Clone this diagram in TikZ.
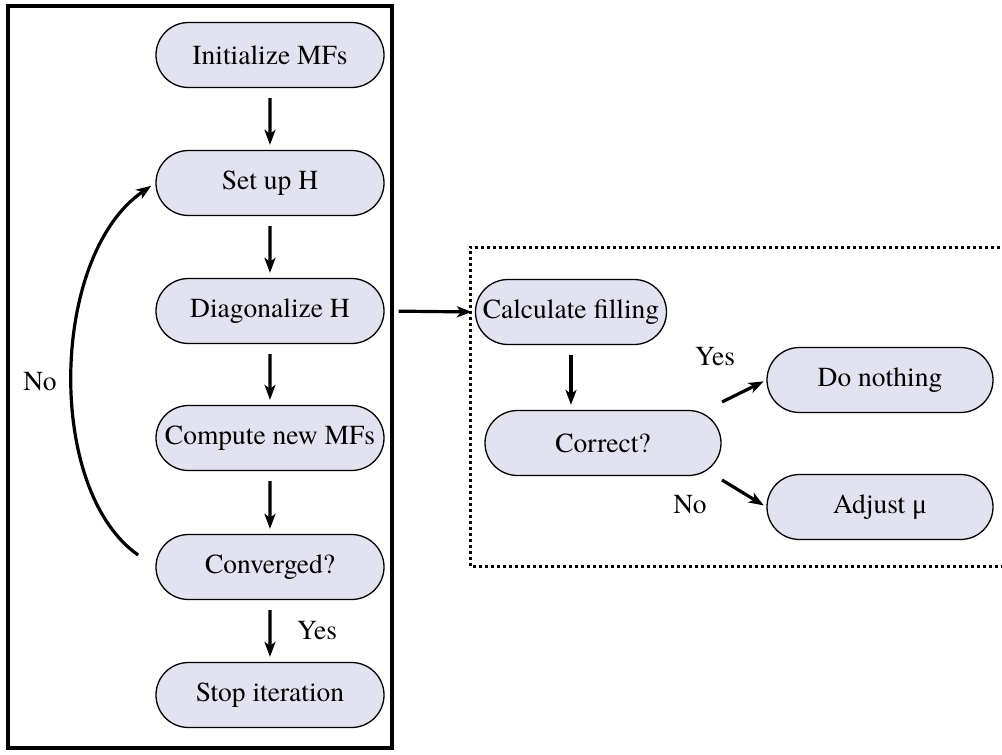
\documentclass[tikz,border=0pt]{standalone}
\usepackage{fontspec}
\setmainfont{texgyretermes}[Extension=.otf, UprightFont=*-regular, BoldFont=*-bold, ItalicFont=*-italic, BoldItalicFont=*-bolditalic]
\newfontfamily\symfont{Liberation Serif}
\usetikzlibrary{arrows.meta,shapes.misc}
\definecolor{boxfill}{HTML}{E2E2F0}
\tikzset{
  proc/.style={draw=black, line width=1.3pt, fill=boxfill, rounded rectangle,
    minimum width=228pt, minimum height=65pt, inner sep=0pt,
    font=\rmfamily\fontsize{27.5}{32}\selectfont},
  flow/.style={line width=3.2pt, -{Stealth[length=15pt,width=11pt,inset=4pt]},
    shorten <=10pt, shorten >=5pt},
  lbl/.style={font=\rmfamily\fontsize{27.5}{32}\selectfont, inner sep=0pt}
}
\begin{document}
\begin{tikzpicture}[x=1pt,y=-1pt]
\useasboundingbox (0,0) rectangle (1002,755);
% frames
\draw[line width=3.8pt] (8,6) rectangle (392,748);
\draw[line width=3pt, dash pattern=on 3pt off 3pt] (1030,247) -- (470,247) -- (470,566) -- (1030,566);
% left column
\node[proc] (init) at (270,55) {Initialize MFs};
\node[proc] (setup) at (270,183) {Set up H};
\node[proc] (diag) at (270,311) {Diagonalize H};
\node[proc] (comp) at (270,438) {Compute new MFs};
\node[proc] (conv) at (270,567) {Converged?};
\node[proc] (stop) at (270,695) {Stop iteration};
% right part
\node[proc, minimum width=191pt] (calc) at (571,312) {Calculate filling};
\node[proc, minimum width=236pt] (corr) at (603,443) {Correct?};
\node[proc, minimum width=226pt] (none) at (880,380) {Do nothing};
\node[proc, minimum width=226pt] (adj) at (880,507) {Adjust {\symfont μ}};
% arrows
\draw[flow] (init) -- (setup);
\draw[flow] (setup) -- (diag);
\draw[flow] (diag) -- (comp);
\draw[flow] (comp) -- (conv);
\draw[flow] (conv) -- (stop);
\draw[flow, shorten <=14pt, shorten >=3pt] (diag.east) -- (calc.west);
\draw[flow] (calc.south) -- (calc.south |- corr.north);
\draw[flow, shorten <=0pt, shorten >=3pt] (722,402) -- (none.west);
\draw[flow, shorten <=0pt, shorten >=3pt] (722,480) -- (adj.west);
\draw[line width=3.2pt, -{Stealth[length=15pt,width=11pt,inset=4pt]}, shorten <=21pt, shorten >=5pt]
  (conv.west) .. controls (45,490) and (50,255) .. (setup.west);
% labels
\node[lbl] (yes1) at (317,631) {Yes};
\node[lbl] (no1) at (40,382) {No};
\node[lbl] (yes2) at (715,357) {Yes};
\node[lbl] (no2) at (690,505) {No};
\end{tikzpicture}
\end{document}
